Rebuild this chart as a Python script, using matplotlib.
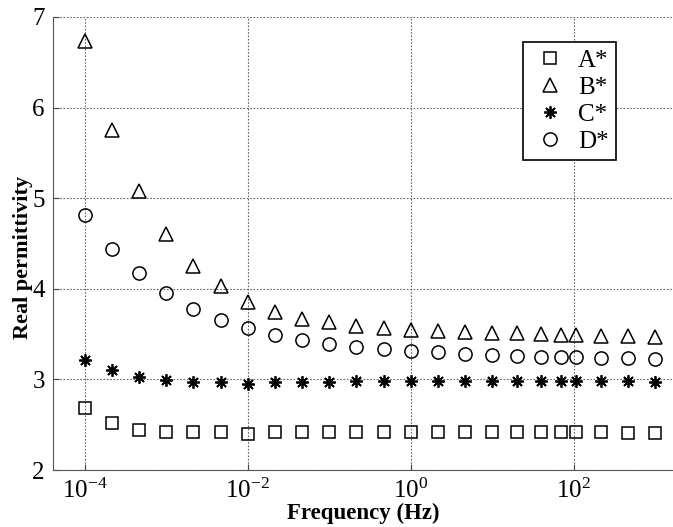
import numpy as np
import matplotlib
matplotlib.use("Agg")
from matplotlib import pyplot as plt

plt.rcParams['font.family'] = ['Liberation Serif', 'DejaVu Serif']
plt.rcParams['mathtext.fontset'] = 'custom'
plt.rcParams['mathtext.rm'] = 'Liberation Serif'
plt.rcParams['mathtext.it'] = 'Liberation Serif:italic'
plt.rcParams['mathtext.bf'] = 'Liberation Serif:bold'

# 測定周波数 (Hz)
freq = [1e-4, 2.15e-4, 4.64e-4, 1e-3, 2.15e-3, 4.64e-3, 1e-2, 2.15e-2, 4.64e-2,
        0.1, 0.215, 0.464, 1.0, 2.15, 4.64, 10.0, 20.0, 40.0, 70.0, 107.0,
        215.0, 464.0, 1000.0]

eps_a = [2.69, 2.52, 2.44, 2.42, 2.42, 2.42, 2.40, 2.42, 2.42, 2.42, 2.42, 2.42,
         2.42, 2.42, 2.42, 2.42, 2.42, 2.42, 2.42, 2.42, 2.42, 2.41, 2.41]
eps_b = [6.73, 5.75, 5.08, 4.60, 4.25, 4.03, 3.85, 3.74, 3.67, 3.63, 3.59, 3.57,
         3.55, 3.53, 3.52, 3.51, 3.51, 3.50, 3.49, 3.49, 3.48, 3.48, 3.47]
eps_c = [3.21, 3.10, 3.03, 2.99, 2.97, 2.97, 2.95, 2.97, 2.97, 2.97, 2.98, 2.98,
         2.98, 2.98, 2.98, 2.98, 2.98, 2.98, 2.98, 2.98, 2.98, 2.98, 2.97]
eps_d = [4.81, 4.44, 4.17, 3.95, 3.78, 3.66, 3.57, 3.49, 3.44, 3.39, 3.36, 3.34,
         3.31, 3.30, 3.28, 3.27, 3.26, 3.25, 3.25, 3.25, 3.24, 3.24, 3.23]

labels = ['A*', 'B*', 'C*', 'D*']
xticks = [1e-4, 1e-2, 1e0, 1e2]
xticklabels = ['$10^{-4}$', '$10^{-2}$', '$10^{0}$', '$10^{2}$']
yticks = [2, 3, 4, 5, 6, 7]

fig = plt.figure(figsize=(6.73, 5.27), dpi=100)
ax = fig.add_axes([0.079, 0.108, 0.921, 0.860])

ax.plot(freq, eps_a, 's', ms=8, mfc='none', mec='black', mew=1.1, label=labels[0])
ax.plot(freq, eps_b, '^', ms=9.5, mfc='none', mec='black', mew=1.1, label=labels[1])
ax.plot(freq, eps_c, marker=(8, 2, 0), ls='none', ms=9, mec='black', mew=1.3, label=labels[2])
ax.plot(freq, eps_d, 'o', ms=9.5, mfc='none', mec='black', mew=1.1, label=labels[3])

ax.set_xscale('log')
ax.set_xlim(10 ** -4.39, 10 ** 3.22)
ax.set_ylim(2, 7)
ax.set_xticks(xticks)
ax.set_xticklabels(xticklabels)
ax.minorticks_off()
ax.set_yticks(yticks)
ax.tick_params(direction='in', labelsize=18, length=4, color='#444444', pad=6)

ax.grid(True, linestyle=(0, (1.5, 1.5)), color='#666666', linewidth=0.8)
ax.spines['top'].set_visible(False)
ax.spines['right'].set_visible(False)
ax.spines['left'].set_color('#555555')
ax.spines['bottom'].set_color('#555555')

ax.set_xlabel('Frequency (Hz)', fontsize=16.5, fontweight='bold')
ax.set_ylabel('Real permittivity', fontsize=16, fontweight='bold')
ax.xaxis.set_label_coords(0.5, -0.073)
ax.yaxis.set_label_coords(-0.032, 0.47)

leg = ax.legend(loc='upper right', bbox_to_anchor=(0.908, 0.945), fontsize=18,
                fancybox=False, framealpha=1, edgecolor='black', borderaxespad=0,
                handletextpad=0.3, labelspacing=0.18, borderpad=0.3, handlelength=1.6)
leg.get_frame().set_linewidth(1.2)

fig.savefig('out.png', dpi=100)
